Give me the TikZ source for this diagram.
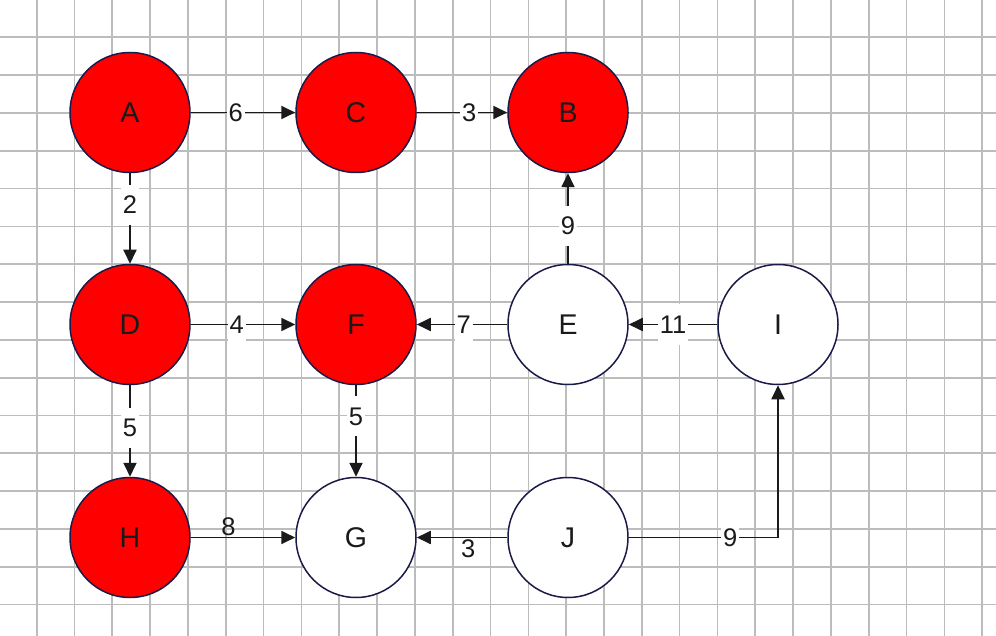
\documentclass[tikz,border=0pt]{standalone}
\usepackage{fontspec}
\setmainfont{Liberation Sans}
\usetikzlibrary{arrows.meta}
\definecolor{visited}{RGB}{255,0,0}
\definecolor{rim}{RGB}{26,26,72}
\definecolor{gridgray}{RGB}{188,188,188}
\definecolor{ink}{RGB}{26,26,26}
\tikzstyle{vertex} = [circle, minimum size=120pt, inner sep=0pt, draw=rim, line width=1.5pt, fill=white, text=ink, font=\fontsize{28.5}{33}\selectfont]
\tikzstyle{done} = [vertex, fill=visited]
\tikzstyle{edge} = [line width=1.8pt, draw=ink, -{Triangle[length=14pt, width=13pt]}]
\tikzstyle{weight} = [fill=white, inner xsep=2pt, inner ysep=0pt, minimum height=40pt, text=ink, font=\fontsize{25.5}{30}\selectfont]
\tikzstyle{sideweight} = [inner sep=0pt, text=ink, font=\fontsize{25.5}{30}\selectfont]
\tikzstyle{gridline} = [gridgray, line width=1.7pt]
\begin{document}
\begin{tikzpicture}[x=1pt, y=-1pt, node distance=212pt]

\fill[white] (0,0) rectangle (996,636);
\useasboundingbox (0,0) rectangle (996,636);
\foreach \k in {0,...,25} \draw[gridline] ({36.7+37.82*\k},0) -- ++(0,636);
\foreach \k in {0,...,15} \draw[gridline] (0,{37.3+37.82*\k}) -- ++(996,0);

\node (A) [done] at (130,112.5) {A};
\node (C) [done, right of=A, xshift=14pt] {C};
\node (B) [done, right of=C] {B};
\node (D) [done, below of=A] {D};
\node (F) [done, right of=D, xshift=14pt] {F};
\node (E) [vertex, right of=F] {E};
\node (I) [vertex, right of=E, xshift=-2pt] {I};
\node (H) [done, below of=D, yshift=-1pt] {H};
\node (G) [vertex, right of=H, xshift=14pt] {G};
\node (J) [vertex, right of=G] {J};

\draw [edge] (A) -- node[weight, pos=0.43]{6} (C);
\draw [edge] (C) -- node[weight, pos=0.58]{3} (B);
\draw [edge] (A) -- node[weight, pos=0.35]{2} (D);
\draw [edge] (D) -- node[weight, pos=0.44]{4} (F);
\draw [edge] (D) -- node[weight, pos=0.47]{5} (H);
\draw [edge] (F) -- node[weight, pos=0.34]{5} (G);
\draw [edge] (E) -- node[weight, pos=0.48]{7} (F);
\draw [edge] (I) -- node[weight, pos=0.5]{11} (E);
\draw [edge] (E) -- node[weight, pos=0.42]{9} (B);
\draw [edge] (H) -- node[sideweight, anchor=south, yshift=1pt, pos=0.36]{8} (G);
\draw [edge] (J) -- node[sideweight, anchor=north, yshift=-1pt, pos=0.43]{3} (G);
\draw [edge] (J) -| node[weight, pos=0.34]{9} (I);

\end{tikzpicture}
\end{document}
